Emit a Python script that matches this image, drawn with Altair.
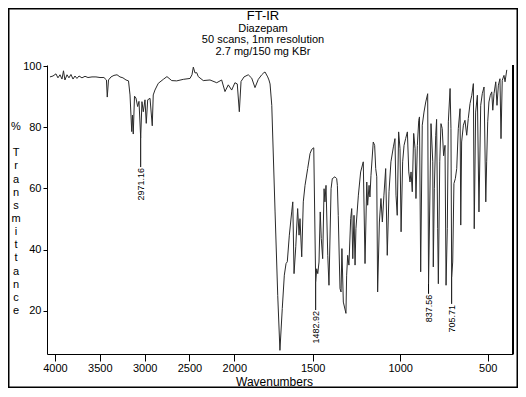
import altair as alt
import pandas as pd

# ---- data ----
wavenumber = [4056, 4022, 3989, 3967, 3944, 3922, 3905, 3889, 3866, 3844, 3822, 3799, 3777, 3755,
              3732, 3699, 3665, 3632, 3587, 3543, 3498, 3454, 3426, 3417, 3403, 3375, 3342, 3308,
              3275, 3242, 3208, 3180, 3163, 3144, 3136, 3127, 3113, 3097, 3078, 3063, 3044, 3030,
              3015, 2996, 2982, 2966, 2940, 2915, 2904, 2885, 2848, 2792, 2751, 2698, 2643, 2569,
              2494, 2472, 2457, 2438, 2419, 2402, 2346, 2271, 2196, 2141, 2104, 2067, 2029, 1996,
              1981, 1968, 1957, 1938, 1911, 1889, 1868, 1847, 1825, 1811, 1804, 1787, 1779, 1772,
              1761, 1740, 1723, 1709, 1694, 1681, 1670, 1662, 1649, 1634, 1627, 1619, 1608, 1596,
              1587, 1581, 1570, 1560, 1549, 1532, 1517, 1506, 1494, 1483, 1477, 1471, 1464, 1457,
              1451, 1443, 1435, 1430, 1424, 1414, 1407, 1395, 1388, 1373, 1363, 1359, 1354, 1344,
              1338, 1333, 1325, 1310, 1306, 1300, 1293, 1283, 1277, 1271, 1264, 1258, 1253, 1239,
              1226, 1211, 1201, 1191, 1186, 1178, 1173, 1167, 1154, 1146, 1140, 1134, 1129, 1119,
              1110, 1102, 1093, 1083, 1074, 1064, 1053, 1039, 1030, 1024, 1017, 1009, 1001, 995,
              986, 978, 969, 959, 951, 944, 938, 931, 923, 915, 910, 902, 894, 890, 883, 874, 864,
              854, 843, 838, 824, 814, 811, 805, 797, 792, 786, 782, 774, 767, 760, 752, 744, 738,
              731, 725, 715, 710, 706, 700, 693, 685, 677, 668, 658, 654, 649, 639, 630, 620, 611,
              601, 591, 582, 577, 569, 559, 550, 540, 531, 521, 511, 506, 500, 493, 485, 477, 471,
              464, 454, 447, 439, 430, 424, 417, 407, 401, 391]
transmittance = [96.5, 96.8, 97.5, 96.2, 97.2, 95.8, 98.5, 95.5, 97.2, 96.2, 97.3, 95.8, 96.8, 96.0,
                 96.8, 96.2, 96.7, 96.3, 96.5, 96.5, 96.3, 96.3, 95.5, 89.9, 95.5, 96.5, 97.0, 97.2,
                 96.5, 96.2, 95.5, 95.2, 90.6, 78.6, 84.0, 77.8, 90.2, 89.6, 86.8, 88.5, 76.5, 88.4,
                 85.1, 89.0, 81.3, 89.0, 89.5, 80.5, 90.6, 92.2, 94.4, 95.7, 96.6, 95.3, 95.2, 95.7,
                 96.0, 97.2, 99.7, 97.8, 97.9, 96.6, 95.3, 95.5, 94.6, 95.5, 91.7, 93.9, 92.2, 94.6,
                 94.2, 85.1, 95.0, 96.5, 97.2, 96.1, 93.0, 95.7, 97.2, 97.9, 98.1, 96.5, 95.5, 94.2,
                 87.2, 52.3, 25.0, 7.0, 20.7, 31.6, 35.4, 36.0, 44.7, 52.3, 55.6, 32.1, 40.9, 53.4,
                 44.7, 50.1, 37.6, 55.6, 61.0, 66.5, 71.4, 72.8, 73.3, 29.4, 33.7, 32.1, 35.9, 52.3,
                 43.6, 37.0, 59.9, 55.6, 61.0, 38.1, 28.3, 59.9, 63.2, 63.8, 63.2, 61.0, 51.2, 27.2,
                 26.1, 40.3, 22.8, 19.1, 31.6, 38.1, 34.9, 50.1, 53.4, 37.0, 51.2, 34.9, 46.8, 57.8,
                 65.4, 68.7, 35.4, 62.1, 54.5, 61.0, 57.2, 64.3, 75.2, 74.1, 66.5, 63.8, 26.1, 49.0,
                 56.7, 49.0, 57.8, 66.5, 38.1, 58.9, 68.7, 73.6, 76.3, 57.8, 51.2, 78.5, 73.0, 45.8,
                 68.7, 74.1, 76.3, 78.5, 65.4, 62.1, 65.4, 58.9, 78.0, 73.0, 56.7, 74.1, 82.3, 83.4,
                 32.7, 80.7, 85.0, 88.3, 91.0, 28.8, 81.2, 68.7, 34.3, 59.9, 77.4, 82.6, 46.8, 28.8,
                 68.7, 81.2, 79.6, 70.7, 74.1, 28.3, 46.8, 81.8, 92.7, 79.6, 31.0, 35.9, 61.6, 63.2,
                 66.5, 79.6, 86.1, 48.0, 75.2, 80.7, 82.3, 77.4, 82.9, 87.8, 90.5, 94.3, 46.8, 85.0,
                 90.5, 52.3, 87.2, 91.0, 93.2, 55.6, 68.7, 81.8, 88.3, 90.5, 91.6, 85.6, 91.0, 94.9,
                 87.2, 93.8, 95.9, 76.3, 95.4, 97.0, 94.9, 98.8]

peak_labels = ["2971.16", "1482.92", "837.56", "705.71"]
peak_wn = [3044, 1483, 838, 706]
peak_T = [76.5, 29.4, 28.8, 31.0]
label_end_T = [67.0, 20.2, 25.5, 22.2]

title_lines = ["FT-IR", "Diazepam", "50 scans, 1nm resolution", "2.7 mg/150 mg KBr"]
x_ticks = [4000, 3500, 3000, 2500, 2000, 1500, 1000, 500]
y_ticks = [20, 40, 60, 80, 100]
y_title_unit = "%"
y_title_word = "Transmittance"
x_title = "Wavenumbers"

# ---- layout / style ----
W, H = 466, 289
FONT = "Liberation Sans"
LH = 13.15

spec = pd.DataFrame({"wn": wavenumber, "T": transmittance})
peaks = pd.DataFrame({"wn": peak_wn, "T": peak_T, "T2": label_end_T, "label": peak_labels})
one = pd.DataFrame({"a": [0]})

xscale = alt.Scale(domain=[4089, 2000, 1500, 355.5], range=[0, 187.3, 265.7, W],
                   nice=False, zero=False)
yscale = alt.Scale(domain=[5.8, 100.4], nice=False, zero=False)

xaxis = alt.Axis(values=x_ticks, title=None, grid=False, tickSize=7, labelPadding=1,
                 labelFont=FONT, labelFontSize=11, labelColor="black", domainColor="black",
                 tickColor="black", format="d", labelOverlap=False, labelFlush=False)
yaxis = alt.Axis(values=y_ticks, title=None, grid=False, tickSize=4, labelPadding=2,
                 labelFont=FONT, labelFontSize=11, labelColor="black", domainColor="black",
                 tickColor="black", format="d", labelOverlap=False, labelFlush=False)

line = alt.Chart(spec).mark_line(color="#2a2a2a", strokeWidth=1).encode(
    x=alt.X("wn:Q", scale=xscale, axis=xaxis),
    y=alt.Y("T:Q", scale=yscale, axis=yaxis),
)

peak_rules = alt.Chart(peaks).mark_rule(color="black", strokeWidth=1).encode(
    x="wn:Q", y="T:Q", y2="T2:Q")
peak_text = alt.Chart(peaks).mark_text(angle=270, align="right", baseline="middle",
                                       fontSize=9, font=FONT, color="black", dx=-1).encode(
    x="wn:Q", y="T2:Q", text="label:N")

title_sizes = [13, 11, 11, 11]
title_y = [-45.5, -33.5, -22, -10.5]
titles = [alt.Chart(one).mark_text(font=FONT, fontSize=s, color="black", align="center",
                                   baseline="alphabetic").encode(
    x=alt.value(216), y=alt.value(yy), text=alt.value(t))
    for t, s, yy in zip(title_lines, title_sizes, title_y)]

# vertical, letter-stacked y title: "%" then a blank line, then the word
ylab_unit = alt.Chart(one).mark_text(font=FONT, fontSize=11, color="black", align="center",
                                     baseline="middle").encode(
    x=alt.value(-31), y=alt.value(62), text=alt.value(y_title_unit))
ylab_word = alt.Chart(one).mark_text(font=FONT, fontSize=11, color="black", align="center",
                                     baseline="middle", lineHeight=LH).encode(
    x=alt.value(-31), y=alt.value(62 + 2 * LH), text=alt.value(list(y_title_word)))

xlab = alt.Chart(one).mark_text(font=FONT, fontSize=12, color="black", align="center",
                                baseline="alphabetic").encode(
    x=alt.value(227.5), y=alt.value(320.5), text=alt.value(x_title))

right_rule = alt.Chart(one).mark_rule(color="black", strokeWidth=2).encode(
    x=alt.value(W), y=alt.value(0), y2=alt.value(H))

frame = alt.Chart(one).mark_rect(fillOpacity=0, stroke="black", strokeWidth=1.5).encode(
    x=alt.value(-38.25), x2=alt.value(470.25), y=alt.value(-56.25), y2=alt.value(322.25))

chart = alt.layer(line, peak_rules, peak_text, *titles, ylab_unit, ylab_word, xlab,
                  right_rule, frame).properties(
    width=W, height=H,
    autosize=alt.AutoSizeParams(type="none"),
    padding={"left": 39, "top": 57, "right": 5, "bottom": 34},
    background="white",
).configure_view(stroke=None)

chart.save("out.html", embed_options={"renderer": "svg", "actions": False})
